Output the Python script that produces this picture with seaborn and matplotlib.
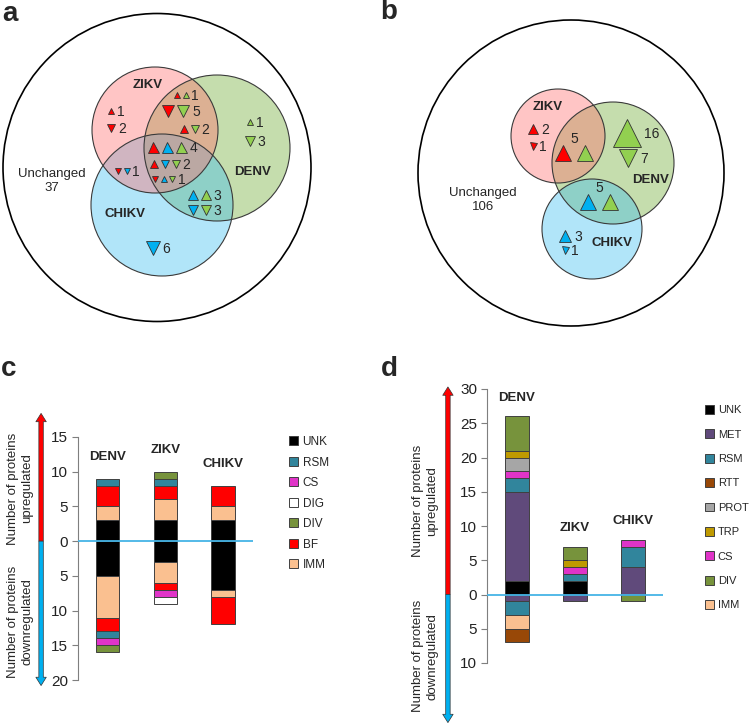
import numpy as np
import matplotlib
matplotlib.use('Agg')
import matplotlib.pyplot as plt
from matplotlib.patches import Circle, Patch
from matplotlib import transforms
import seaborn as sns

sns.set_style('white')
plt.rcParams['font.family'] = ['Liberation Sans', 'DejaVu Sans']

viruses = ['DENV', 'ZIKV', 'CHIKV']

# ---- panel c : counts per functional class (DENV, ZIKV, CHIKV)
legend_c = ['UNK', 'RSM', 'CS', 'DIG', 'DIV', 'BF', 'IMM']
stack_c = ['UNK', 'IMM', 'BF', 'RSM', 'CS', 'DIG', 'DIV']
up_c = {'UNK': [3, 3, 3], 'IMM': [2, 3, 2], 'BF': [3, 2, 3], 'RSM': [1, 1, 0],
        'CS': [0, 0, 0], 'DIG': [0, 0, 0], 'DIV': [0, 1, 0]}
down_c = {'UNK': [5, 3, 7], 'IMM': [6, 3, 1], 'BF': [2, 1, 4], 'RSM': [1, 0, 0],
          'CS': [1, 1, 0], 'DIG': [0, 1, 0], 'DIV': [1, 0, 0]}
ticks_c = [15, 10, 5, 0, -5, -10, -15, -20]

# ---- panel d
legend_d = ['UNK', 'MET', 'RSM', 'RTT', 'PROT', 'TRP', 'CS', 'DIV', 'IMM']
stack_d = ['UNK', 'MET', 'RSM', 'IMM', 'RTT', 'CS', 'PROT', 'TRP', 'DIV']
up_d = {'UNK': [2, 2, 0], 'MET': [13, 0, 4], 'RSM': [2, 1, 3], 'IMM': [0, 0, 0],
        'RTT': [0, 0, 0], 'CS': [1, 1, 1], 'PROT': [2, 0, 0], 'TRP': [1, 1, 0],
        'DIV': [5, 2, 0]}
down_d = {'UNK': [0, 0, 0], 'MET': [1, 1, 0], 'RSM': [2, 0, 0], 'IMM': [2, 0, 0],
          'RTT': [2, 0, 0], 'CS': [0, 0, 0], 'PROT': [0, 0, 0], 'TRP': [0, 0, 0],
          'DIV': [0, 0, 1]}
ticks_d = [30, 25, 20, 15, 10, 5, 0, -5, -10]

class_colors = {'UNK': '#000000', 'RSM': '#31859c', 'CS': '#e034c8', 'DIG': '#ffffff',
                'DIV': '#77933c', 'BF': '#ff0000', 'IMM': '#fac090', 'MET': '#604a7b',
                'RTT': '#984807', 'PROT': '#a6a6a6', 'TRP': '#bf9a00'}

# ---- venn a / b : triangle groups and counts
venn_a_marks = ['r^', 'rv', 'r^ g^', 'rv gv', 'r^ gv', 'g^', 'gv', 'r^ b^ g^',
                'r^ bv gv', 'rv b^ gv', 'rv bv', 'b^ g^', 'bv gv', 'bv']
venn_a_counts = [1, 2, 1, 5, 2, 1, 3, 4, 2, 1, 1, 3, 3, 6]
venn_a_xy = [(111, 111), (111, 128), (177, 95), (168, 111), (184, 129), (250, 122),
             (250, 141), (153, 147), (154, 164), (155, 179), (118, 171), (193, 195),
             (193, 210), (153, 248)]
unchanged_a = 37

venn_b_marks = ['r^', 'rv', 'r^ g^', 'g^', 'gv', 'b^ g^', 'b^', 'bv']
venn_b_counts = [2, 1, 5, 16, 7, 5, 3, 1]
venn_b_xy = [(533, 129), (533, 146), (563, 153), (627, 133), (628, 158), (588, 202),
             (565, 236), (565, 250)]
venn_b_above = [False, False, True, False, False, True, False, False]
unchanged_b = 106

tri_colors = {'r': '#ff0000', 'g': '#92d050', 'b': '#00b0f0'}

fig = plt.figure(figsize=(7.49, 7.25), dpi=100)
ov = fig.add_axes([0, 0, 1, 1])
ov.set_xlim(0, 749)
ov.set_ylim(725, 0)
ov.axis('off')


def venn(circles, marks, counts, xy, k, gap, above=None):
    # fills: DENV, CHIKV, ZIKV  (order gives the brown/teal/mauve overlaps)
    fills = {'DENV': ((110/255, 170/255, 50/255), 0.4),
             'CHIKV': ((60/255, 190/255, 240/255), 0.4),
             'ZIKV': ((1.0, 110/255, 110/255), 0.4)}
    for name in ['DENV', 'CHIKV', 'ZIKV']:
        (cx, cy), r = circles[name]
        c, a = fills[name]
        ov.add_patch(Circle((cx, cy), r, facecolor=c, alpha=a, edgecolor='none'))
    for name in ['DENV', 'CHIKV', 'ZIKV']:
        (cx, cy), r = circles[name]
        ov.add_patch(Circle((cx, cy), r, facecolor='none', edgecolor='#3a3a3a', lw=0.8))
    (cx, cy), r = circles['outer']
    ov.add_patch(Circle((cx, cy), r, facecolor='none', edgecolor='black', lw=1.2))
    for i, (m, n, (x, y)) in enumerate(zip(marks, counts, xy)):
        w = k * np.sqrt(n)
        xs = []
        for j, s in enumerate(m.split()):
            xx = x + j * (w + gap)
            xs.append(xx)
            ov.plot(xx, y, marker=s[1], ms=w * 0.72, mfc=tri_colors[s[0]],
                    mec='#333333', mew=0.6, ls='none')
        if above is not None and above[i]:
            ov.text((xs[0] + xs[-1]) / 2, y - w / 2 - 6, str(n), fontsize=10,
                    ha='center', va='center')
        else:
            ov.text(xs[-1] + w / 2 + 3, y + 0.5, str(n), fontsize=10, ha='left', va='center')


venn({'outer': ((157, 167.5), 154), 'ZIKV': ((155, 130), 63),
      'DENV': ((217, 148), 73), 'CHIKV': ((162, 205), 71)},
     venn_a_marks, venn_a_counts, venn_a_xy, 5.5, 3)
for t, (x, y) in zip(['ZIKV', 'DENV', 'CHIKV'], [(148, 85), (253, 172), (125, 214)]):
    ov.text(x, y, t, fontsize=9.5, fontweight='bold', ha='center', va='center')
ov.text(52, 181, 'Unchanged\n' + str(unchanged_a), fontsize=9.5, ha='center',
        va='center', linespacing=1.3)

venn({'outer': ((571, 173), 153), 'ZIKV': ((558, 136), 47),
      'DENV': ((613, 163), 61), 'CHIKV': ((592, 229), 50)},
     venn_b_marks, venn_b_counts, venn_b_xy, 7, 6.4, venn_b_above)
for t, (x, y) in zip(['ZIKV', 'DENV', 'CHIKV'], [(548, 107), (651, 180), (612, 243)]):
    ov.text(x, y, t, fontsize=9.5, fontweight='bold', ha='center', va='center')
ov.text(483, 200, 'Unchanged\n' + str(unchanged_b), fontsize=9.5, ha='center',
        va='center', linespacing=1.3)

for lab, (x, y) in zip('abcd', [(2, 21), (380, 19), (1, 376), (381, 376)]):
    ov.text(x, y, lab, fontsize=20, fontweight='bold', ha='left', va='baseline')


def bars(ax, stack, up, down, ticks, width, lab_off):
    top = np.zeros(3)
    bot = np.zeros(3)
    for part, store, sign in [(up, top, 1), (down, bot, -1)]:
        for cat in stack:
            h = np.array(part[cat], float)
            keep = h > 0
            if not keep.any():
                continue
            sns.barplot(x=[v for v, kk in zip(viruses, keep) if kk], y=sign * h[keep],
                        order=viruses, bottom=sign * store[keep], color=class_colors[cat],
                        saturation=1, width=width, edgecolor='#404040', linewidth=0.7,
                        errorbar=None, ax=ax)
            store += h
    ax.axhline(0, color='#45b4e6', lw=1.3, zorder=5)
    ax.set_ylim(ticks[-1], ticks[0])
    ax.set_xlim(-0.51, 2.52)
    ax.set_yticks(ticks)
    ax.set_yticklabels([str(abs(t)) for t in ticks], fontsize=11, color='#222222')
    ax.set_xticks([])
    ax.set_xlabel('')
    ax.set_ylabel('')
    sns.despine(ax=ax, bottom=True)
    ax.spines['left'].set_color('#7f7f7f')
    ax.tick_params(axis='y', left=True, length=4, color='#7f7f7f', pad=3)
    ax.patch.set_alpha(0)
    for i, v in enumerate(viruses):
        ax.text(i, top[i] + lab_off, v, fontsize=9.5, fontweight='bold', ha='center',
                va='center')


def arrows(ax, xa, ytop, ybot, xt, yup, ydown):
    tr = transforms.blended_transform_factory(ax.transAxes, ax.transData)
    for y1, col in [(ytop, '#ff0000'), (ybot, '#00b0f0')]:
        ax.annotate('', xy=(xa, y1), xytext=(xa, 0), xycoords=tr, textcoords=tr,
                    annotation_clip=False,
                    arrowprops=dict(arrowstyle='simple,head_length=0.6,head_width=0.75,tail_width=0.32',
                                    fc=col, ec='#333333', lw=0.5, shrinkA=0, shrinkB=0,
                                    mutation_scale=10))
    ax.text(xt, yup, 'Number of proteins\nupregulated', transform=tr, rotation=90,
            fontsize=9.5, ha='center', va='center', linespacing=1.2)
    ax.text(xt, ydown, 'Number of proteins\ndownregulated', transform=tr, rotation=90,
            fontsize=9.5, ha='center', va='center', linespacing=1.2)


ax_c = fig.add_axes([78 / 749, 1 - 680 / 725, 175 / 749, 243 / 725])
bars(ax_c, stack_c, up_c, down_c, ticks_c, 0.4, 3.1)
arrows(ax_c, -0.211, 18.4, -20.8, -0.33, 7.6, -11.6)
ax_c.legend(handles=[Patch(facecolor=class_colors[c], edgecolor='#404040', lw=0.7, label=c)
                     for c in legend_c],
            loc='upper left', bbox_to_anchor=(289, 436), bbox_transform=ov.transData,
            frameon=False, fontsize=8.5, handlelength=0.8, handleheight=0.8,
            handletextpad=0.35, labelspacing=0.72, borderpad=0, borderaxespad=0)

ax_d = fig.add_axes([487 / 749, 1 - 663 / 725, 176 / 749, 274 / 725])
bars(ax_d, stack_d, up_d, down_d, ticks_d, 0.41, 2.7)
arrows(ax_d, -0.222, 30.3, -18.7, -0.35, 13.7, -9.0)
ax_d.legend(handles=[Patch(facecolor=class_colors[c], edgecolor='#404040', lw=0.7, label=c)
                     for c in legend_d],
            loc='upper left', bbox_to_anchor=(705, 405), bbox_transform=ov.transData,
            frameon=False, fontsize=8, handlelength=0.85, handleheight=0.85,
            handletextpad=0.3, labelspacing=1.27, borderpad=0, borderaxespad=0)

fig.savefig('out.png', dpi=100)
